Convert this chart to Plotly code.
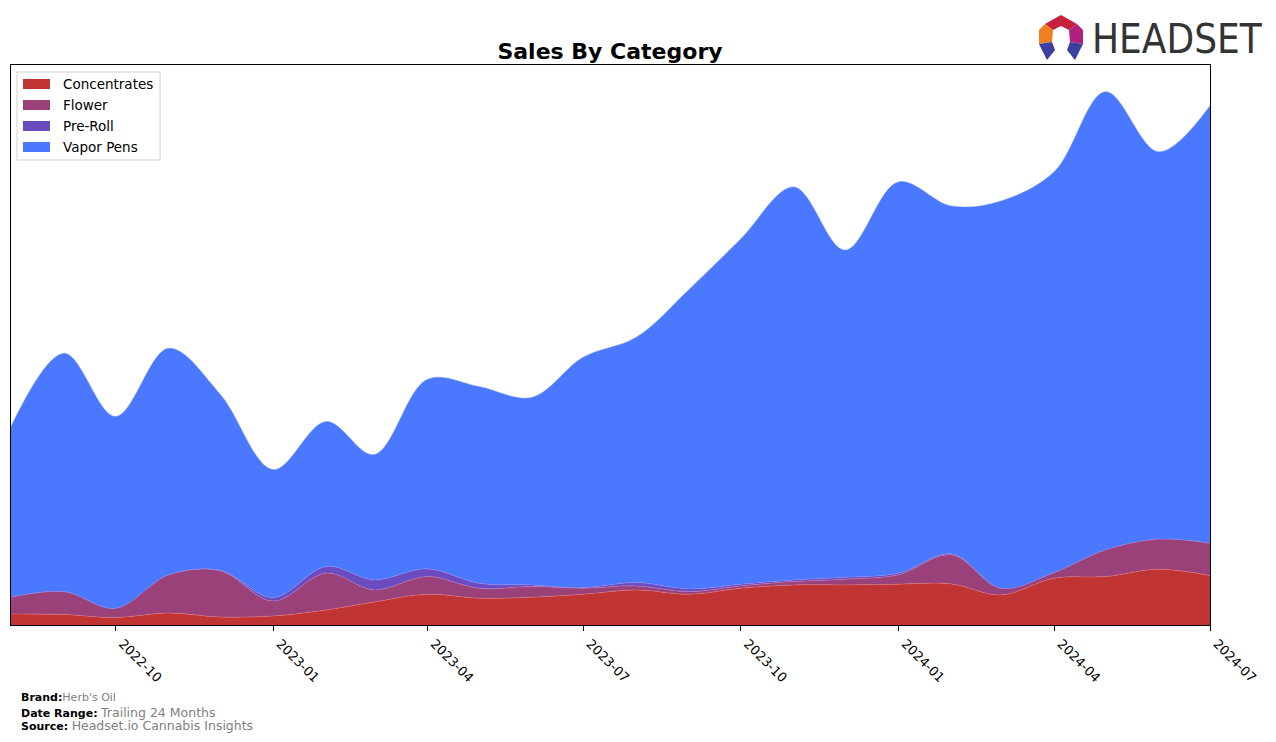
import plotly.graph_objects as go

months = ["2022-08-01", "2022-09-01", "2022-10-01", "2022-11-01", "2022-12-01",
          "2023-01-01", "2023-02-01", "2023-03-01", "2023-04-01", "2023-05-01",
          "2023-06-01", "2023-07-01", "2023-08-01", "2023-09-01", "2023-10-01",
          "2023-11-01", "2023-12-01", "2024-01-01", "2024-02-01", "2024-03-01",
          "2024-04-01", "2024-05-01", "2024-06-01", "2024-07-01"]

concentrates = [11, 10.5, 7.5, 12, 8, 9, 15, 23, 30.7, 26.7, 27.7, 30.7,
                35, 30.7, 36.7, 40, 40, 40.7, 41, 30, 46.7, 48.3, 55.7, 49.3]
flower = [17, 22.8, 9.2, 38, 46, 15, 36.7, 12, 17.6, 10, 10.6, 6,
          4, 2.6, 2.3, 3.3, 5.7, 9.3, 29, 6.7, 5.6, 26.7, 30, 32.4]
pre_roll = [0, 0, 0, 0, 0.5, 3.3, 6.6, 10, 7.7, 5, 1.7, 0.6,
            3.3, 2.7, 1.7, 1.7, 2, 1.7, 1, 0, 0, 0, 0, 0]
vapor_pens = [170, 237.7, 191.3, 226, 176, 127.7, 144.7, 125, 189, 196.3, 187, 229.7,
              244.7, 299, 344.3, 392, 326.3, 390.3, 347, 386.3, 399.7, 457, 386.3, 436.3]

tick_vals = ["2022-10-01", "2023-01-01", "2023-04-01", "2023-07-01",
             "2023-10-01", "2024-01-01", "2024-04-01", "2024-07-01"]
tick_text = ["2022-10", "2023-01", "2023-04", "2023-07",
             "2023-10", "2024-01", "2024-04", "2024-07"]

series = [
    ("Concentrates", concentrates, "#C13434", "rgba(230,120,120,0.8)"),
    ("Flower", flower, "#9A4179", "rgba(200,120,170,0.8)"),
    ("Pre-Roll", pre_roll, "#6A4CC0", "rgba(150,130,230,0.8)"),
    ("Vapor Pens", vapor_pens, "#4A78FF", "rgba(120,150,255,0.8)"),
]

fig = go.Figure()
for name, vals, col, lcol in series:
    fig.add_trace(go.Scatter(
        x=months, y=vals, name=name, stackgroup="one", mode="lines",
        line=dict(shape="spline", smoothing=1.0, width=0.6, color=lcol),
        fillcolor=col, showlegend=False,
    ))

totals = [a + b + c + d for a, b, c, d in zip(concentrates, flower, pre_roll, vapor_pens)]
ymax = max(totals) * 1.05

# page offset (body margin) of 8px
OFF = 8
W, H = 1276 - 2 * OFF, 742 - 2 * OFF
PL, PR, PT, PB = 11, 1210, 65, 625  # plot box in reference pixels
L, T = PL - OFF, PT - OFF
R, B = W - (PR - OFF), H - (PB - OFF)
pw, ph = PR - PL, PB - PT


def px(x):
    return (x - PL) / pw


def py(y):
    return (PB - y) / ph


def poly(pts, color):
    d = "M " + " L ".join(f"{px(x):.5f},{py(y):.5f}" for x, y in pts) + " Z"
    return dict(type="path", xref="paper", yref="paper", path=d,
                fillcolor=color, line=dict(width=0), layer="above")


def rect(x0, y0, x1, y1, fill, line_color=None, lw=0):
    return dict(type="rect", xref="paper", yref="paper",
                x0=px(x0), x1=px(x1), y0=py(y1), y1=py(y0),
                fillcolor=fill, line=dict(width=lw, color=line_color or fill),
                layer="above")


shapes = [
    poly([(1045, 24), (1061, 15), (1077, 24), (1069, 30), (1061, 26), (1053, 30)], "#C8203A"),
    poly([(1045, 24), (1053, 30), (1052, 42), (1039, 44), (1039, 30)], "#F07F22"),
    poly([(1077, 24), (1069, 30), (1070, 42), (1083, 44), (1083, 30)], "#B0207E"),
    poly([(1039, 44), (1052, 42), (1055, 50), (1047, 60)], "#3B3FA0"),
    poly([(1083, 44), (1070, 42), (1067, 50), (1075, 60)], "#3B3FA0"),
    rect(17, 72, 160, 160, "white", "#D0D0D0", 1),
]

annotations = []
for i, (name, vals, col, lcol) in enumerate(series):
    yc = 84 + 21 * i
    shapes.append(rect(23, yc - 5, 50, yc + 5, col))
    annotations.append(dict(text=name, xref="paper", yref="paper", x=px(61), y=py(yc),
                            xanchor="left", yanchor="middle", showarrow=False,
                            font=dict(size=13.5, family="DejaVu Sans", color="black")))

annotations += [
    dict(text="HEADSET", xref="paper", yref="paper", x=px(1090), y=py(39),
         xanchor="left", yanchor="middle", showarrow=False,
         font=dict(size=40, family="DejaVu Sans Condensed, DejaVu Sans", color="#333333")),
    dict(text="<b>Brand:</b><span style='color:#808080;font-size:11px'>Herb's Oil</span>",
         xref="paper", yref="paper", x=px(19), y=py(697), xanchor="left",
         yanchor="middle", showarrow=False, font=dict(size=11, color="black")),
    dict(text="<b>Date Range:</b> <span style='color:#808080;font-size:12.5px'>Trailing 24 Months</span>",
         xref="paper", yref="paper", x=px(19), y=py(712), xanchor="left",
         yanchor="middle", showarrow=False, font=dict(size=11, color="black")),
    dict(text="<b>Source:</b> <span style='color:#808080;font-size:12.5px'>Headset.io Cannabis Insights</span>",
         xref="paper", yref="paper", x=px(19), y=py(725), xanchor="left",
         yanchor="middle", showarrow=False, font=dict(size=11, color="black")),
]

fig.update_layout(
    width=W, height=H,
    margin=dict(l=L, r=R, t=T, b=B),
    paper_bgcolor="white", plot_bgcolor="white",
    font=dict(family="DejaVu Sans", color="black"),
    title=dict(text="<b>Sales By Category</b>", xref="paper", x=px(610), xanchor="center",
               yref="container", y=1 - (51 - OFF) / H, yanchor="middle",
               font=dict(size=22, family="DejaVu Sans")),
    showlegend=False,
    xaxis=dict(type="date", range=[months[0], months[-1]], tickvals=tick_vals,
               ticktext=tick_text, tickangle=45, ticks="outside", ticklen=5,
               tickcolor="black", showline=True, linecolor="black", linewidth=1,
               mirror=True, showgrid=False, zeroline=False, ticklabelshift=7,
               tickfont=dict(size=13, family="DejaVu Sans")),
    yaxis=dict(range=[0, ymax], showticklabels=False, ticks="", showline=True,
               linecolor="black", linewidth=1, mirror=True, showgrid=False,
               zeroline=False),
    shapes=shapes,
    annotations=annotations,
)

fig.write_html("out.html")
